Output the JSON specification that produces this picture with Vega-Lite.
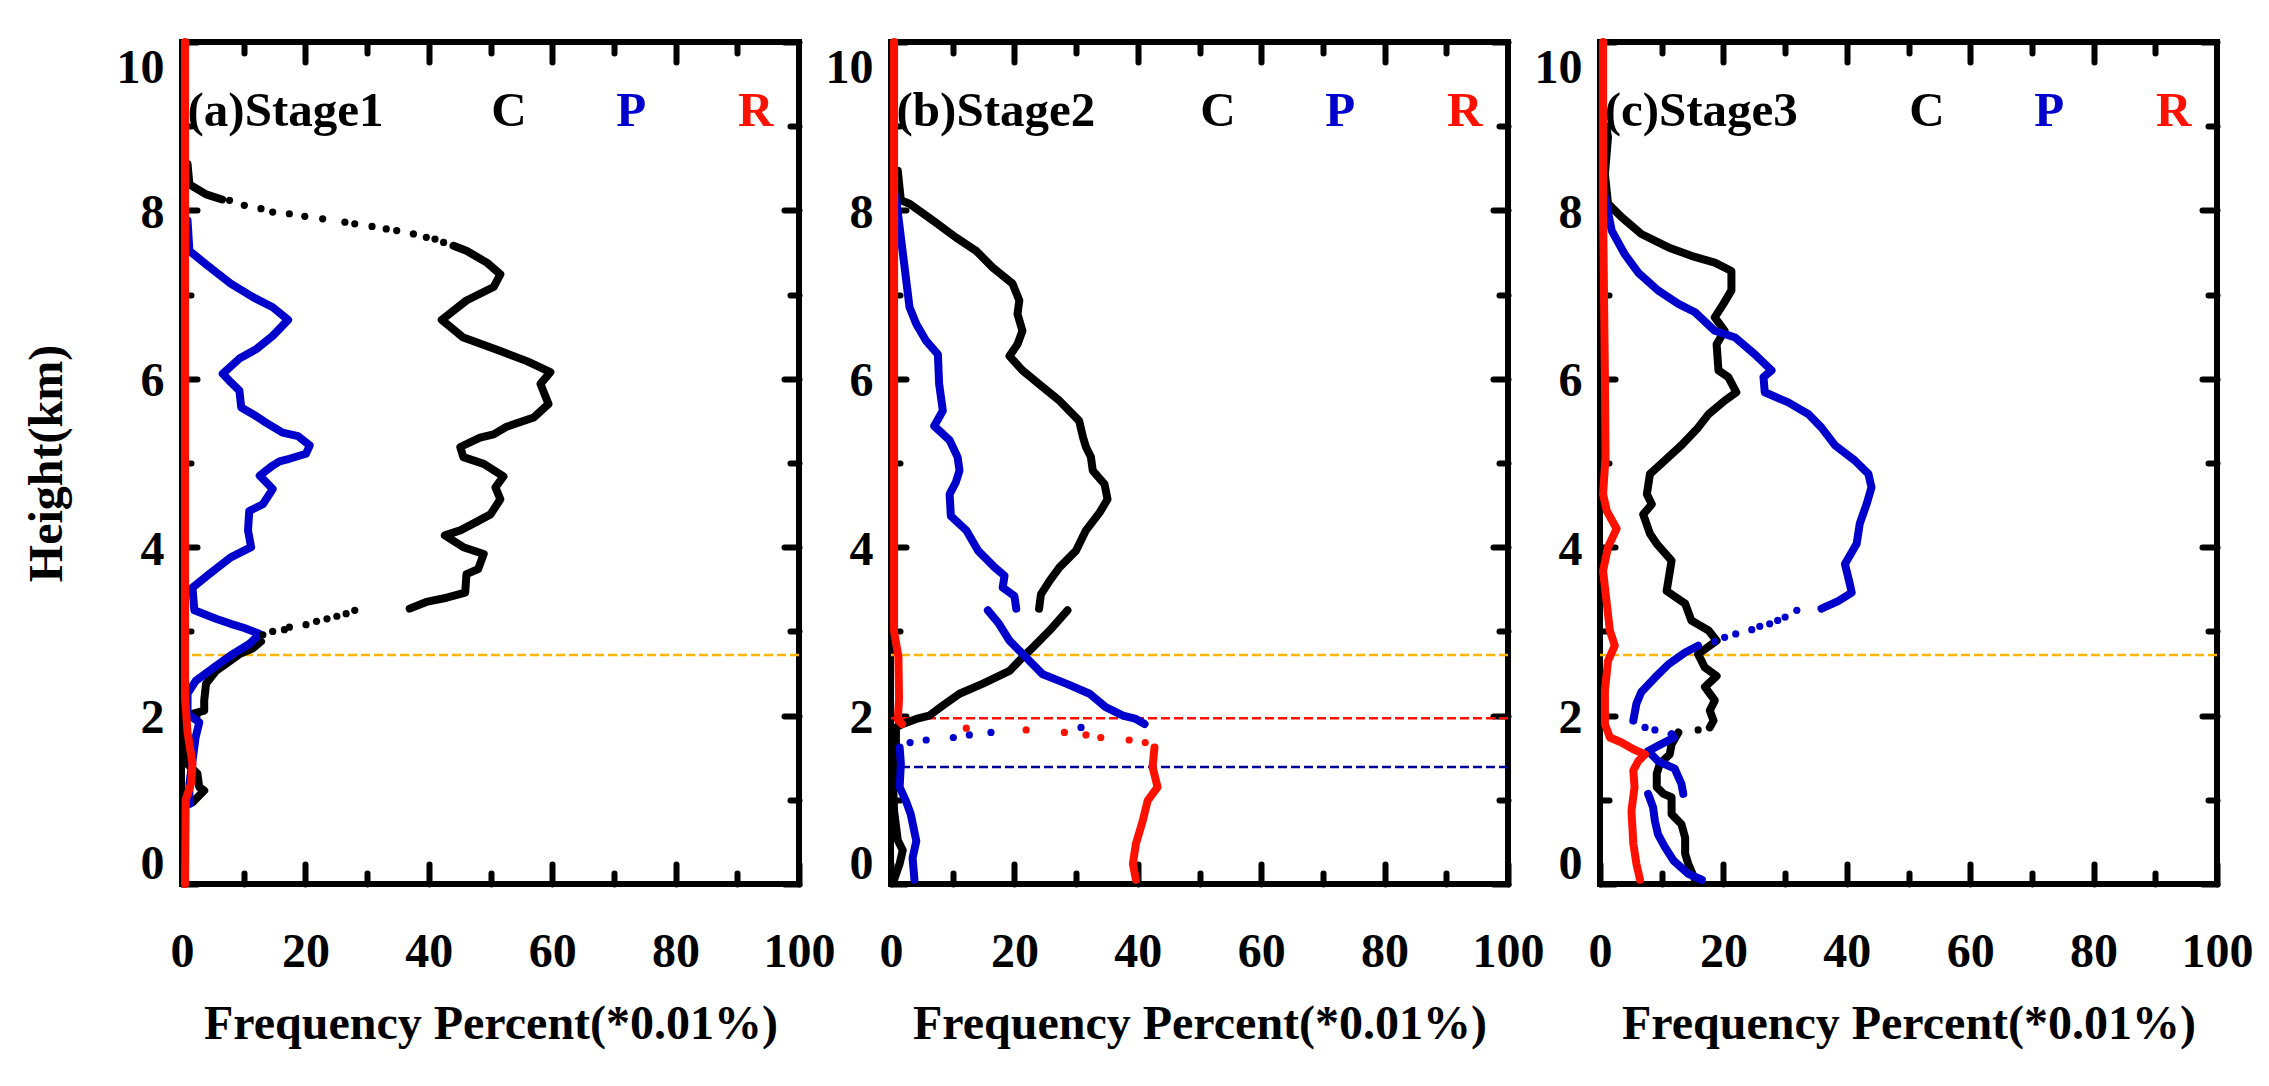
{
  "$schema": "https://vega.github.io/schema/vega-lite/v6.json",
  "padding": {"left": 20, "top": 35, "right": 10, "bottom": 5},
  "background": "white",
  "bounds": "flush",
  "spacing": 92,
  "datasets": {
    "rules": [
      {"p": "a", "k": "T", "h": 2.72},
      {"p": "b", "k": "T", "h": 2.72},
      {"p": "b", "k": "R", "h": 1.97},
      {"p": "b", "k": "P", "h": 1.39},
      {"p": "c", "k": "T", "h": 2.72}
    ],
    "stages": [
      {"p": "a", "t": "(a)Stage1", "f": 0.9, "h": 9.0},
      {"p": "b", "t": "(b)Stage2", "f": 0.9, "h": 9.0},
      {"p": "c", "t": "(c)Stage3", "f": 0.75, "h": 9.0}
    ],
    "keys": [
      {"p": "a", "s": "C", "f": 53, "h": 9.0},
      {"p": "a", "s": "P", "f": 72.8, "h": 9.0},
      {"p": "a", "s": "R", "f": 93, "h": 9.0},
      {"p": "b", "s": "C", "f": 53, "h": 9.0},
      {"p": "b", "s": "P", "f": 72.8, "h": 9.0},
      {"p": "b", "s": "R", "f": 93, "h": 9.0},
      {"p": "c", "s": "C", "f": 53, "h": 9.0},
      {"p": "c", "s": "P", "f": 72.8, "h": 9.0},
      {"p": "c", "s": "R", "f": 93, "h": 9.0}
    ],
    "lines": [
      {"p": "a", "s": "C", "g": 1, "f": 0.9, "h": 8.55},
      {"p": "a", "s": "C", "g": 1, "f": 1.2, "h": 8.31},
      {"p": "a", "s": "C", "g": 1, "f": 3.9, "h": 8.19},
      {"p": "a", "s": "C", "g": 1, "f": 6.5, "h": 8.13},
      {"p": "a", "s": "C", "g": 2, "f": 44.0, "h": 7.58},
      {"p": "a", "s": "C", "g": 2, "f": 46.1, "h": 7.52},
      {"p": "a", "s": "C", "g": 2, "f": 49.4, "h": 7.38},
      {"p": "a", "s": "C", "g": 2, "f": 51.6, "h": 7.24},
      {"p": "a", "s": "C", "g": 2, "f": 50.5, "h": 7.09},
      {"p": "a", "s": "C", "g": 2, "f": 46.1, "h": 6.93},
      {"p": "a", "s": "C", "g": 2, "f": 42.1, "h": 6.70},
      {"p": "a", "s": "C", "g": 2, "f": 45.6, "h": 6.49},
      {"p": "a", "s": "C", "g": 2, "f": 51.6, "h": 6.33},
      {"p": "a", "s": "C", "g": 2, "f": 55.9, "h": 6.21},
      {"p": "a", "s": "C", "g": 2, "f": 59.7, "h": 6.08},
      {"p": "a", "s": "C", "g": 2, "f": 58.1, "h": 5.94},
      {"p": "a", "s": "C", "g": 2, "f": 59.4, "h": 5.70},
      {"p": "a", "s": "C", "g": 2, "f": 57.0, "h": 5.54},
      {"p": "a", "s": "C", "g": 2, "f": 52.6, "h": 5.43},
      {"p": "a", "s": "C", "g": 2, "f": 50.5, "h": 5.34},
      {"p": "a", "s": "C", "g": 2, "f": 48.3, "h": 5.30},
      {"p": "a", "s": "C", "g": 2, "f": 45.1, "h": 5.19},
      {"p": "a", "s": "C", "g": 2, "f": 45.6, "h": 5.07},
      {"p": "a", "s": "C", "g": 2, "f": 48.9, "h": 4.99},
      {"p": "a", "s": "C", "g": 2, "f": 52.1, "h": 4.84},
      {"p": "a", "s": "C", "g": 2, "f": 50.8, "h": 4.71},
      {"p": "a", "s": "C", "g": 2, "f": 51.6, "h": 4.57},
      {"p": "a", "s": "C", "g": 2, "f": 50.0, "h": 4.39},
      {"p": "a", "s": "C", "g": 2, "f": 47.2, "h": 4.28},
      {"p": "a", "s": "C", "g": 2, "f": 45.1, "h": 4.20},
      {"p": "a", "s": "C", "g": 2, "f": 42.6, "h": 4.14},
      {"p": "a", "s": "C", "g": 2, "f": 45.6, "h": 4.00},
      {"p": "a", "s": "C", "g": 2, "f": 48.9, "h": 3.92},
      {"p": "a", "s": "C", "g": 2, "f": 48.0, "h": 3.74},
      {"p": "a", "s": "C", "g": 2, "f": 46.1, "h": 3.68},
      {"p": "a", "s": "C", "g": 2, "f": 45.9, "h": 3.46},
      {"p": "a", "s": "C", "g": 2, "f": 42.9, "h": 3.40},
      {"p": "a", "s": "C", "g": 2, "f": 39.6, "h": 3.35},
      {"p": "a", "s": "C", "g": 2, "f": 36.9, "h": 3.27},
      {"p": "a", "s": "C", "g": 3, "f": 12.8, "h": 2.88},
      {"p": "a", "s": "C", "g": 3, "f": 11.5, "h": 2.80},
      {"p": "a", "s": "C", "g": 3, "f": 9.3, "h": 2.73},
      {"p": "a", "s": "C", "g": 3, "f": 5.5, "h": 2.53},
      {"p": "a", "s": "C", "g": 3, "f": 3.9, "h": 2.38},
      {"p": "a", "s": "C", "g": 3, "f": 3.6, "h": 2.18},
      {"p": "a", "s": "C", "g": 3, "f": 3.6, "h": 2.06},
      {"p": "a", "s": "C", "g": 3, "f": 1.7, "h": 2.02},
      {"p": "a", "s": "C", "g": 3, "f": 0.6, "h": 1.94},
      {"p": "a", "s": "C", "g": 3, "f": 0.9, "h": 1.66},
      {"p": "a", "s": "C", "g": 3, "f": 0.4, "h": 1.46},
      {"p": "a", "s": "C", "g": 3, "f": 2.5, "h": 1.31},
      {"p": "a", "s": "C", "g": 3, "f": 2.8, "h": 1.15},
      {"p": "a", "s": "C", "g": 3, "f": 3.6, "h": 1.11},
      {"p": "a", "s": "C", "g": 3, "f": 1.7, "h": 0.97},
      {"p": "a", "s": "P", "g": 1, "f": 0.9, "h": 7.88},
      {"p": "a", "s": "P", "g": 1, "f": 1.2, "h": 7.52},
      {"p": "a", "s": "P", "g": 1, "f": 3.9, "h": 7.36},
      {"p": "a", "s": "P", "g": 1, "f": 7.9, "h": 7.13},
      {"p": "a", "s": "P", "g": 1, "f": 11.5, "h": 6.97},
      {"p": "a", "s": "P", "g": 1, "f": 14.7, "h": 6.85},
      {"p": "a", "s": "P", "g": 1, "f": 17.2, "h": 6.70},
      {"p": "a", "s": "P", "g": 1, "f": 14.7, "h": 6.51},
      {"p": "a", "s": "P", "g": 1, "f": 12.0, "h": 6.35},
      {"p": "a", "s": "P", "g": 1, "f": 9.3, "h": 6.24},
      {"p": "a", "s": "P", "g": 1, "f": 6.6, "h": 6.06},
      {"p": "a", "s": "P", "g": 1, "f": 7.9, "h": 5.96},
      {"p": "a", "s": "P", "g": 1, "f": 9.3, "h": 5.86},
      {"p": "a", "s": "P", "g": 1, "f": 9.6, "h": 5.66},
      {"p": "a", "s": "P", "g": 1, "f": 11.5, "h": 5.58},
      {"p": "a", "s": "P", "g": 1, "f": 13.6, "h": 5.48},
      {"p": "a", "s": "P", "g": 1, "f": 16.3, "h": 5.36},
      {"p": "a", "s": "P", "g": 1, "f": 18.8, "h": 5.32},
      {"p": "a", "s": "P", "g": 1, "f": 20.7, "h": 5.21},
      {"p": "a", "s": "P", "g": 1, "f": 20.1, "h": 5.11},
      {"p": "a", "s": "P", "g": 1, "f": 17.4, "h": 5.05},
      {"p": "a", "s": "P", "g": 1, "f": 15.8, "h": 5.02},
      {"p": "a", "s": "P", "g": 1, "f": 14.7, "h": 4.97},
      {"p": "a", "s": "P", "g": 1, "f": 12.6, "h": 4.85},
      {"p": "a", "s": "P", "g": 1, "f": 14.7, "h": 4.69},
      {"p": "a", "s": "P", "g": 1, "f": 13.1, "h": 4.51},
      {"p": "a", "s": "P", "g": 1, "f": 10.9, "h": 4.43},
      {"p": "a", "s": "P", "g": 1, "f": 10.7, "h": 4.20},
      {"p": "a", "s": "P", "g": 1, "f": 11.2, "h": 4.00},
      {"p": "a", "s": "P", "g": 1, "f": 7.9, "h": 3.88},
      {"p": "a", "s": "P", "g": 1, "f": 4.4, "h": 3.68},
      {"p": "a", "s": "P", "g": 1, "f": 1.7, "h": 3.52},
      {"p": "a", "s": "P", "g": 1, "f": 2.0, "h": 3.25},
      {"p": "a", "s": "P", "g": 1, "f": 5.5, "h": 3.15},
      {"p": "a", "s": "P", "g": 1, "f": 7.9, "h": 3.09},
      {"p": "a", "s": "P", "g": 1, "f": 10.1, "h": 3.04},
      {"p": "a", "s": "P", "g": 1, "f": 12.6, "h": 2.97},
      {"p": "a", "s": "P", "g": 1, "f": 10.9, "h": 2.85},
      {"p": "a", "s": "P", "g": 1, "f": 8.2, "h": 2.73},
      {"p": "a", "s": "P", "g": 1, "f": 5.5, "h": 2.59},
      {"p": "a", "s": "P", "g": 1, "f": 2.2, "h": 2.41},
      {"p": "a", "s": "P", "g": 1, "f": 0.9, "h": 2.26},
      {"p": "a", "s": "P", "g": 1, "f": 0.9, "h": 2.02},
      {"p": "a", "s": "P", "g": 1, "f": 2.8, "h": 1.92},
      {"p": "a", "s": "P", "g": 1, "f": 2.2, "h": 1.74},
      {"p": "a", "s": "P", "g": 1, "f": 1.7, "h": 1.46},
      {"p": "a", "s": "P", "g": 1, "f": 1.2, "h": 1.19},
      {"p": "a", "s": "P", "g": 1, "f": 1.2, "h": 0.95},
      {"p": "a", "s": "R", "g": 1, "f": 0.5, "h": 10},
      {"p": "a", "s": "R", "g": 1, "f": 0.5, "h": 2.2},
      {"p": "a", "s": "R", "g": 1, "f": 0.9, "h": 1.8},
      {"p": "a", "s": "R", "g": 1, "f": 1.7, "h": 1.43},
      {"p": "a", "s": "R", "g": 1, "f": 1.5, "h": 1.2},
      {"p": "a", "s": "R", "g": 1, "f": 0.6, "h": 1.0},
      {"p": "a", "s": "R", "g": 1, "f": 0.5, "h": 0},

      {"p": "b", "s": "C", "g": 1, "f": 1.1, "h": 8.47},
      {"p": "b", "s": "C", "g": 1, "f": 1.6, "h": 8.12},
      {"p": "b", "s": "C", "g": 1, "f": 3.0, "h": 8.08},
      {"p": "b", "s": "C", "g": 1, "f": 6.8, "h": 7.88},
      {"p": "b", "s": "C", "g": 1, "f": 10.5, "h": 7.68},
      {"p": "b", "s": "C", "g": 1, "f": 13.8, "h": 7.52},
      {"p": "b", "s": "C", "g": 1, "f": 16.5, "h": 7.32},
      {"p": "b", "s": "C", "g": 1, "f": 19.7, "h": 7.13},
      {"p": "b", "s": "C", "g": 1, "f": 20.8, "h": 6.93},
      {"p": "b", "s": "C", "g": 1, "f": 20.5, "h": 6.77},
      {"p": "b", "s": "C", "g": 1, "f": 21.3, "h": 6.57},
      {"p": "b", "s": "C", "g": 1, "f": 20.5, "h": 6.41},
      {"p": "b", "s": "C", "g": 1, "f": 19.2, "h": 6.27},
      {"p": "b", "s": "C", "g": 1, "f": 21.3, "h": 6.10},
      {"p": "b", "s": "C", "g": 1, "f": 24.6, "h": 5.90},
      {"p": "b", "s": "C", "g": 1, "f": 27.3, "h": 5.74},
      {"p": "b", "s": "C", "g": 1, "f": 30.5, "h": 5.50},
      {"p": "b", "s": "C", "g": 1, "f": 31.1, "h": 5.31},
      {"p": "b", "s": "C", "g": 1, "f": 31.6, "h": 5.19},
      {"p": "b", "s": "C", "g": 1, "f": 32.4, "h": 5.07},
      {"p": "b", "s": "C", "g": 1, "f": 32.7, "h": 4.91},
      {"p": "b", "s": "C", "g": 1, "f": 34.6, "h": 4.75},
      {"p": "b", "s": "C", "g": 1, "f": 35.1, "h": 4.57},
      {"p": "b", "s": "C", "g": 1, "f": 33.8, "h": 4.41},
      {"p": "b", "s": "C", "g": 1, "f": 31.6, "h": 4.20},
      {"p": "b", "s": "C", "g": 1, "f": 30.0, "h": 3.96},
      {"p": "b", "s": "C", "g": 1, "f": 27.3, "h": 3.76},
      {"p": "b", "s": "C", "g": 1, "f": 25.7, "h": 3.60},
      {"p": "b", "s": "C", "g": 1, "f": 24.3, "h": 3.44},
      {"p": "b", "s": "C", "g": 1, "f": 24.0, "h": 3.27},
      {"p": "b", "s": "C", "g": 2, "f": 28.6, "h": 3.25},
      {"p": "b", "s": "C", "g": 2, "f": 25.7, "h": 3.01},
      {"p": "b", "s": "C", "g": 2, "f": 23.0, "h": 2.81},
      {"p": "b", "s": "C", "g": 2, "f": 21.3, "h": 2.69},
      {"p": "b", "s": "C", "g": 2, "f": 19.2, "h": 2.53},
      {"p": "b", "s": "C", "g": 2, "f": 14.9, "h": 2.38},
      {"p": "b", "s": "C", "g": 2, "f": 11.1, "h": 2.26},
      {"p": "b", "s": "C", "g": 2, "f": 8.4, "h": 2.12},
      {"p": "b", "s": "C", "g": 2, "f": 6.2, "h": 2.00},
      {"p": "b", "s": "C", "g": 2, "f": 4.1, "h": 1.96},
      {"p": "b", "s": "C", "g": 2, "f": 1.9, "h": 1.90},
      {"p": "b", "s": "C", "g": 2, "f": 0.8, "h": 1.86},
      {"p": "b", "s": "C", "g": 2, "f": 0.8, "h": 1.66},
      {"p": "b", "s": "C", "g": 2, "f": 0.3, "h": 1.25},
      {"p": "b", "s": "C", "g": 2, "f": 0.5, "h": 0.87},
      {"p": "b", "s": "C", "g": 2, "f": 1.1, "h": 0.52},
      {"p": "b", "s": "C", "g": 2, "f": 1.9, "h": 0.40},
      {"p": "b", "s": "C", "g": 2, "f": 1.4, "h": 0.24},
      {"p": "b", "s": "C", "g": 2, "f": 0.5, "h": 0.05},
      {"p": "b", "s": "P", "g": 1, "f": 0.8, "h": 8.16},
      {"p": "b", "s": "P", "g": 1, "f": 1.6, "h": 7.68},
      {"p": "b", "s": "P", "g": 1, "f": 2.4, "h": 7.21},
      {"p": "b", "s": "P", "g": 1, "f": 3.0, "h": 6.85},
      {"p": "b", "s": "P", "g": 1, "f": 4.1, "h": 6.65},
      {"p": "b", "s": "P", "g": 1, "f": 5.7, "h": 6.45},
      {"p": "b", "s": "P", "g": 1, "f": 7.6, "h": 6.29},
      {"p": "b", "s": "P", "g": 1, "f": 7.8, "h": 5.94},
      {"p": "b", "s": "P", "g": 1, "f": 8.4, "h": 5.62},
      {"p": "b", "s": "P", "g": 1, "f": 7.0, "h": 5.44},
      {"p": "b", "s": "P", "g": 1, "f": 9.5, "h": 5.27},
      {"p": "b", "s": "P", "g": 1, "f": 10.8, "h": 5.07},
      {"p": "b", "s": "P", "g": 1, "f": 11.1, "h": 4.91},
      {"p": "b", "s": "P", "g": 1, "f": 10.5, "h": 4.77},
      {"p": "b", "s": "P", "g": 1, "f": 9.5, "h": 4.63},
      {"p": "b", "s": "P", "g": 1, "f": 9.7, "h": 4.37},
      {"p": "b", "s": "P", "g": 1, "f": 12.2, "h": 4.20},
      {"p": "b", "s": "P", "g": 1, "f": 14.1, "h": 3.96},
      {"p": "b", "s": "P", "g": 1, "f": 16.8, "h": 3.76},
      {"p": "b", "s": "P", "g": 1, "f": 18.4, "h": 3.66},
      {"p": "b", "s": "P", "g": 1, "f": 18.1, "h": 3.52},
      {"p": "b", "s": "P", "g": 1, "f": 20.0, "h": 3.42},
      {"p": "b", "s": "P", "g": 1, "f": 20.3, "h": 3.27},
      {"p": "b", "s": "P", "g": 2, "f": 15.7, "h": 3.25},
      {"p": "b", "s": "P", "g": 2, "f": 17.5, "h": 3.09},
      {"p": "b", "s": "P", "g": 2, "f": 19.2, "h": 2.89},
      {"p": "b", "s": "P", "g": 2, "f": 21.9, "h": 2.69},
      {"p": "b", "s": "P", "g": 2, "f": 24.6, "h": 2.49},
      {"p": "b", "s": "P", "g": 2, "f": 28.4, "h": 2.38},
      {"p": "b", "s": "P", "g": 2, "f": 32.2, "h": 2.26},
      {"p": "b", "s": "P", "g": 2, "f": 34.8, "h": 2.10},
      {"p": "b", "s": "P", "g": 2, "f": 37.6, "h": 2.00},
      {"p": "b", "s": "P", "g": 2, "f": 39.7, "h": 1.96},
      {"p": "b", "s": "P", "g": 2, "f": 41.1, "h": 1.90},
      {"p": "b", "s": "P", "g": 3, "f": 1.4, "h": 1.62},
      {"p": "b", "s": "P", "g": 3, "f": 1.6, "h": 1.43},
      {"p": "b", "s": "P", "g": 3, "f": 1.4, "h": 1.15},
      {"p": "b", "s": "P", "g": 3, "f": 2.4, "h": 0.99},
      {"p": "b", "s": "P", "g": 3, "f": 3.2, "h": 0.83},
      {"p": "b", "s": "P", "g": 3, "f": 4.1, "h": 0.51},
      {"p": "b", "s": "P", "g": 3, "f": 3.5, "h": 0.31},
      {"p": "b", "s": "P", "g": 3, "f": 3.8, "h": 0.05},
      {"p": "b", "s": "R", "g": 1, "f": 0.5, "h": 10},
      {"p": "b", "s": "R", "g": 1, "f": 0.5, "h": 3.0},
      {"p": "b", "s": "R", "g": 1, "f": 1.2, "h": 2.7},
      {"p": "b", "s": "R", "g": 1, "f": 1.3, "h": 2.2},
      {"p": "b", "s": "R", "g": 1, "f": 1.1, "h": 1.95},
      {"p": "b", "s": "R", "g": 1, "f": 1.8, "h": 1.9},
      {"p": "b", "s": "R", "g": 2, "f": 42.7, "h": 1.62},
      {"p": "b", "s": "R", "g": 2, "f": 42.4, "h": 1.39},
      {"p": "b", "s": "R", "g": 2, "f": 43.2, "h": 1.15},
      {"p": "b", "s": "R", "g": 2, "f": 41.6, "h": 0.99},
      {"p": "b", "s": "R", "g": 2, "f": 40.8, "h": 0.75},
      {"p": "b", "s": "R", "g": 2, "f": 39.7, "h": 0.48},
      {"p": "b", "s": "R", "g": 2, "f": 39.2, "h": 0.24},
      {"p": "b", "s": "R", "g": 2, "f": 39.7, "h": 0.05},

      {"p": "c", "s": "C", "g": 1, "f": 1.0, "h": 9.0},
      {"p": "c", "s": "C", "g": 1, "f": 1.3, "h": 8.87},
      {"p": "c", "s": "C", "g": 1, "f": 0.8, "h": 8.43},
      {"p": "c", "s": "C", "g": 1, "f": 1.3, "h": 8.08},
      {"p": "c", "s": "C", "g": 1, "f": 3.5, "h": 7.92},
      {"p": "c", "s": "C", "g": 1, "f": 6.7, "h": 7.72},
      {"p": "c", "s": "C", "g": 1, "f": 11.1, "h": 7.56},
      {"p": "c", "s": "C", "g": 1, "f": 14.8, "h": 7.46},
      {"p": "c", "s": "C", "g": 1, "f": 18.6, "h": 7.38},
      {"p": "c", "s": "C", "g": 1, "f": 21.3, "h": 7.28},
      {"p": "c", "s": "C", "g": 1, "f": 21.3, "h": 7.05},
      {"p": "c", "s": "C", "g": 1, "f": 20.0, "h": 6.89},
      {"p": "c", "s": "C", "g": 1, "f": 18.6, "h": 6.73},
      {"p": "c", "s": "C", "g": 1, "f": 20.2, "h": 6.57},
      {"p": "c", "s": "C", "g": 1, "f": 18.9, "h": 6.41},
      {"p": "c", "s": "C", "g": 1, "f": 19.2, "h": 6.10},
      {"p": "c", "s": "C", "g": 1, "f": 20.8, "h": 6.02},
      {"p": "c", "s": "C", "g": 1, "f": 22.1, "h": 5.84},
      {"p": "c", "s": "C", "g": 1, "f": 20.2, "h": 5.74},
      {"p": "c", "s": "C", "g": 1, "f": 17.6, "h": 5.58},
      {"p": "c", "s": "C", "g": 1, "f": 15.9, "h": 5.42},
      {"p": "c", "s": "C", "g": 1, "f": 13.2, "h": 5.21},
      {"p": "c", "s": "C", "g": 1, "f": 10.5, "h": 5.03},
      {"p": "c", "s": "C", "g": 1, "f": 8.1, "h": 4.87},
      {"p": "c", "s": "C", "g": 1, "f": 7.6, "h": 4.63},
      {"p": "c", "s": "C", "g": 1, "f": 8.4, "h": 4.51},
      {"p": "c", "s": "C", "g": 1, "f": 7.0, "h": 4.39},
      {"p": "c", "s": "C", "g": 1, "f": 8.1, "h": 4.16},
      {"p": "c", "s": "C", "g": 1, "f": 9.2, "h": 4.04},
      {"p": "c", "s": "C", "g": 1, "f": 11.6, "h": 3.84},
      {"p": "c", "s": "C", "g": 1, "f": 10.8, "h": 3.48},
      {"p": "c", "s": "C", "g": 1, "f": 13.8, "h": 3.33},
      {"p": "c", "s": "C", "g": 1, "f": 14.8, "h": 3.13},
      {"p": "c", "s": "C", "g": 1, "f": 17.6, "h": 3.01},
      {"p": "c", "s": "C", "g": 1, "f": 18.9, "h": 2.89},
      {"p": "c", "s": "C", "g": 1, "f": 15.9, "h": 2.73},
      {"p": "c", "s": "C", "g": 1, "f": 17.0, "h": 2.57},
      {"p": "c", "s": "C", "g": 1, "f": 18.9, "h": 2.47},
      {"p": "c", "s": "C", "g": 1, "f": 17.0, "h": 2.34},
      {"p": "c", "s": "C", "g": 1, "f": 18.6, "h": 2.18},
      {"p": "c", "s": "C", "g": 1, "f": 17.8, "h": 2.06},
      {"p": "c", "s": "C", "g": 1, "f": 18.4, "h": 1.94},
      {"p": "c", "s": "C", "g": 1, "f": 17.8, "h": 1.86},
      {"p": "c", "s": "C", "g": 2, "f": 12.7, "h": 1.80},
      {"p": "c", "s": "C", "g": 2, "f": 11.6, "h": 1.66},
      {"p": "c", "s": "C", "g": 2, "f": 11.3, "h": 1.54},
      {"p": "c", "s": "C", "g": 2, "f": 9.7, "h": 1.43},
      {"p": "c", "s": "C", "g": 2, "f": 9.2, "h": 1.31},
      {"p": "c", "s": "C", "g": 2, "f": 9.2, "h": 1.15},
      {"p": "c", "s": "C", "g": 2, "f": 10.3, "h": 1.07},
      {"p": "c", "s": "C", "g": 2, "f": 11.6, "h": 1.03},
      {"p": "c", "s": "C", "g": 2, "f": 11.6, "h": 0.83},
      {"p": "c", "s": "C", "g": 2, "f": 13.2, "h": 0.71},
      {"p": "c", "s": "C", "g": 2, "f": 13.8, "h": 0.55},
      {"p": "c", "s": "C", "g": 2, "f": 13.8, "h": 0.36},
      {"p": "c", "s": "C", "g": 2, "f": 14.3, "h": 0.24},
      {"p": "c", "s": "C", "g": 2, "f": 15.4, "h": 0.05},
      {"p": "c", "s": "P", "g": 1, "f": 0.8, "h": 8.16},
      {"p": "c", "s": "P", "g": 1, "f": 1.9, "h": 7.76},
      {"p": "c", "s": "P", "g": 1, "f": 4.0, "h": 7.48},
      {"p": "c", "s": "P", "g": 1, "f": 6.2, "h": 7.26},
      {"p": "c", "s": "P", "g": 1, "f": 9.4, "h": 7.05},
      {"p": "c", "s": "P", "g": 1, "f": 12.7, "h": 6.89},
      {"p": "c", "s": "P", "g": 1, "f": 15.4, "h": 6.79},
      {"p": "c", "s": "P", "g": 1, "f": 18.6, "h": 6.57},
      {"p": "c", "s": "P", "g": 1, "f": 21.9, "h": 6.49},
      {"p": "c", "s": "P", "g": 1, "f": 25.1, "h": 6.29},
      {"p": "c", "s": "P", "g": 1, "f": 27.8, "h": 6.10},
      {"p": "c", "s": "P", "g": 1, "f": 26.5, "h": 6.02},
      {"p": "c", "s": "P", "g": 1, "f": 26.7, "h": 5.84},
      {"p": "c", "s": "P", "g": 1, "f": 30.5, "h": 5.72},
      {"p": "c", "s": "P", "g": 1, "f": 33.8, "h": 5.58},
      {"p": "c", "s": "P", "g": 1, "f": 35.9, "h": 5.42},
      {"p": "c", "s": "P", "g": 1, "f": 38.1, "h": 5.21},
      {"p": "c", "s": "P", "g": 1, "f": 41.3, "h": 5.03},
      {"p": "c", "s": "P", "g": 1, "f": 43.5, "h": 4.87},
      {"p": "c", "s": "P", "g": 1, "f": 44.0, "h": 4.71},
      {"p": "c", "s": "P", "g": 1, "f": 43.2, "h": 4.51},
      {"p": "c", "s": "P", "g": 1, "f": 42.1, "h": 4.28},
      {"p": "c", "s": "P", "g": 1, "f": 41.6, "h": 4.04},
      {"p": "c", "s": "P", "g": 1, "f": 39.7, "h": 3.80},
      {"p": "c", "s": "P", "g": 1, "f": 40.5, "h": 3.56},
      {"p": "c", "s": "P", "g": 1, "f": 40.8, "h": 3.46},
      {"p": "c", "s": "P", "g": 1, "f": 38.6, "h": 3.36},
      {"p": "c", "s": "P", "g": 1, "f": 35.9, "h": 3.27},
      {"p": "c", "s": "P", "g": 2, "f": 15.9, "h": 2.83},
      {"p": "c", "s": "P", "g": 2, "f": 13.8, "h": 2.75},
      {"p": "c", "s": "P", "g": 2, "f": 11.1, "h": 2.61},
      {"p": "c", "s": "P", "g": 2, "f": 8.9, "h": 2.45},
      {"p": "c", "s": "P", "g": 2, "f": 6.7, "h": 2.28},
      {"p": "c", "s": "P", "g": 2, "f": 5.9, "h": 2.14},
      {"p": "c", "s": "P", "g": 2, "f": 5.4, "h": 1.94},
      {"p": "c", "s": "P", "g": 3, "f": 11.6, "h": 1.78},
      {"p": "c", "s": "P", "g": 3, "f": 12.0, "h": 1.74},
      {"p": "c", "s": "P", "g": 3, "f": 9.4, "h": 1.64},
      {"p": "c", "s": "P", "g": 3, "f": 7.8, "h": 1.58},
      {"p": "c", "s": "P", "g": 3, "f": 9.4, "h": 1.46},
      {"p": "c", "s": "P", "g": 3, "f": 12.1, "h": 1.37},
      {"p": "c", "s": "P", "g": 3, "f": 13.2, "h": 1.19},
      {"p": "c", "s": "P", "g": 3, "f": 13.5, "h": 1.07},
      {"p": "c", "s": "P", "g": 4, "f": 7.8, "h": 1.07},
      {"p": "c", "s": "P", "g": 4, "f": 8.6, "h": 0.91},
      {"p": "c", "s": "P", "g": 4, "f": 8.9, "h": 0.75},
      {"p": "c", "s": "P", "g": 4, "f": 9.4, "h": 0.59},
      {"p": "c", "s": "P", "g": 4, "f": 10.5, "h": 0.44},
      {"p": "c", "s": "P", "g": 4, "f": 11.9, "h": 0.28},
      {"p": "c", "s": "P", "g": 4, "f": 14.3, "h": 0.12},
      {"p": "c", "s": "P", "g": 4, "f": 16.5, "h": 0.05},
      {"p": "c", "s": "R", "g": 1, "f": 0.5, "h": 10},
      {"p": "c", "s": "R", "g": 1, "f": 0.5, "h": 8.0},
      {"p": "c", "s": "R", "g": 1, "f": 0.8, "h": 6.0},
      {"p": "c", "s": "R", "g": 1, "f": 0.9, "h": 5.07},
      {"p": "c", "s": "R", "g": 1, "f": 0.5, "h": 4.63},
      {"p": "c", "s": "R", "g": 1, "f": 1.1, "h": 4.43},
      {"p": "c", "s": "R", "g": 1, "f": 2.7, "h": 4.22},
      {"p": "c", "s": "R", "g": 1, "f": 1.3, "h": 4.00},
      {"p": "c", "s": "R", "g": 1, "f": 0.5, "h": 3.72},
      {"p": "c", "s": "R", "g": 1, "f": 1.1, "h": 3.33},
      {"p": "c", "s": "R", "g": 1, "f": 1.6, "h": 3.01},
      {"p": "c", "s": "R", "g": 1, "f": 2.4, "h": 2.83},
      {"p": "c", "s": "R", "g": 1, "f": 1.3, "h": 2.65},
      {"p": "c", "s": "R", "g": 1, "f": 0.8, "h": 2.30},
      {"p": "c", "s": "R", "g": 1, "f": 0.8, "h": 1.90},
      {"p": "c", "s": "R", "g": 1, "f": 1.6, "h": 1.74},
      {"p": "c", "s": "R", "g": 1, "f": 3.5, "h": 1.68},
      {"p": "c", "s": "R", "g": 1, "f": 5.4, "h": 1.60},
      {"p": "c", "s": "R", "g": 1, "f": 7.3, "h": 1.54},
      {"p": "c", "s": "R", "g": 1, "f": 6.2, "h": 1.46},
      {"p": "c", "s": "R", "g": 1, "f": 5.4, "h": 1.35},
      {"p": "c", "s": "R", "g": 1, "f": 5.6, "h": 1.15},
      {"p": "c", "s": "R", "g": 1, "f": 5.1, "h": 0.87},
      {"p": "c", "s": "R", "g": 1, "f": 5.4, "h": 0.48},
      {"p": "c", "s": "R", "g": 1, "f": 5.9, "h": 0.24},
      {"p": "c", "s": "R", "g": 1, "f": 6.5, "h": 0.05}
    ],
    "dots": [
      {"p": "a", "s": "C", "f": 7.7, "h": 8.12},
      {"p": "a", "s": "C", "f": 10.1, "h": 8.06},
      {"p": "a", "s": "C", "f": 12.8, "h": 8.02},
      {"p": "a", "s": "C", "f": 14.7, "h": 7.98},
      {"p": "a", "s": "C", "f": 17.4, "h": 7.96},
      {"p": "a", "s": "C", "f": 19.9, "h": 7.93},
      {"p": "a", "s": "C", "f": 22.8, "h": 7.90},
      {"p": "a", "s": "C", "f": 26.4, "h": 7.86},
      {"p": "a", "s": "C", "f": 28.0, "h": 7.84},
      {"p": "a", "s": "C", "f": 30.8, "h": 7.81},
      {"p": "a", "s": "C", "f": 33.1, "h": 7.78},
      {"p": "a", "s": "C", "f": 34.8, "h": 7.76},
      {"p": "a", "s": "C", "f": 37.5, "h": 7.72},
      {"p": "a", "s": "C", "f": 39.6, "h": 7.68},
      {"p": "a", "s": "C", "f": 41.0, "h": 7.66},
      {"p": "a", "s": "C", "f": 42.4, "h": 7.62},
      {"p": "a", "s": "C", "f": 28.0, "h": 3.25},
      {"p": "a", "s": "C", "f": 26.6, "h": 3.21},
      {"p": "a", "s": "C", "f": 25.1, "h": 3.18},
      {"p": "a", "s": "C", "f": 23.5, "h": 3.15},
      {"p": "a", "s": "C", "f": 21.8, "h": 3.12},
      {"p": "a", "s": "C", "f": 20.1, "h": 3.08},
      {"p": "a", "s": "C", "f": 17.4, "h": 3.05},
      {"p": "a", "s": "C", "f": 16.6, "h": 3.02},
      {"p": "a", "s": "C", "f": 14.7, "h": 3.00},
      {"p": "a", "s": "C", "f": 13.1, "h": 2.96},
      {"p": "b", "s": "P", "f": 30.8, "h": 1.86},
      {"p": "b", "s": "P", "f": 16.2, "h": 1.80},
      {"p": "b", "s": "P", "f": 12.7, "h": 1.77},
      {"p": "b", "s": "P", "f": 10.1, "h": 1.74},
      {"p": "b", "s": "P", "f": 5.7, "h": 1.71},
      {"p": "b", "s": "P", "f": 3.1, "h": 1.68},
      {"p": "b", "s": "R", "f": 12.2, "h": 1.85},
      {"p": "b", "s": "R", "f": 21.9, "h": 1.83},
      {"p": "b", "s": "R", "f": 28.1, "h": 1.80},
      {"p": "b", "s": "R", "f": 31.6, "h": 1.77},
      {"p": "b", "s": "R", "f": 34.0, "h": 1.74},
      {"p": "b", "s": "R", "f": 38.6, "h": 1.71},
      {"p": "b", "s": "R", "f": 41.2, "h": 1.68},
      {"p": "c", "s": "C", "f": 15.9, "h": 1.83},
      {"p": "c", "s": "P", "f": 31.9, "h": 3.25},
      {"p": "c", "s": "P", "f": 30.0, "h": 3.17},
      {"p": "c", "s": "P", "f": 28.8, "h": 3.13},
      {"p": "c", "s": "P", "f": 27.5, "h": 3.09},
      {"p": "c", "s": "P", "f": 25.9, "h": 3.06},
      {"p": "c", "s": "P", "f": 24.6, "h": 3.02},
      {"p": "c", "s": "P", "f": 22.0, "h": 2.97},
      {"p": "c", "s": "P", "f": 20.2, "h": 2.93},
      {"p": "c", "s": "P", "f": 18.6, "h": 2.88},
      {"p": "c", "s": "P", "f": 7.3, "h": 1.86},
      {"p": "c", "s": "P", "f": 8.9, "h": 1.83}
    ]
  },
  "hconcat": [
    {
      "width": 617,
      "height": 842,
      "layer": [
        {
          "data": {"name": "rules"},
          "transform": [{"filter": "datum.p == 'a'"}],
          "mark": {"type": "rule", "strokeDash": [9, 4], "strokeWidth": 2.5},
          "encoding": {
            "y": {"field": "h", "type": "quantitative", "scale": {"domain": [0, 10], "nice": false, "zero": false},
              "axis": {"orient": "left", "values": [0, 2, 4, 6, 8, 10], "tickSize": -15, "labelPadding": 33, "labelFlush": true, "labelFlushOffset": 1, "labelOffset": 3, "title": "Height(km)", "titlePadding": 45}},
            "color": {"field": "k", "type": "nominal", "scale": {"domain": ["T", "R", "P"], "range": ["#ffb400", "#ff1100", "#00009c"]}, "legend": null}
          }
        },
        {
          "data": {"name": "lines"},
          "transform": [{"filter": "datum.p == 'a'"}],
          "mark": {"type": "line", "strokeWidth": 8, "strokeCap": "round", "strokeJoin": "round"},
          "encoding": {
            "x": {"field": "f", "type": "quantitative", "scale": {"domain": [0, 100], "nice": false, "zero": false},
              "axis": {"orient": "bottom", "values": [0, 20, 40, 60, 80, 100], "tickSize": -20, "labelPadding": 64, "labelFlush": false, "title": "Frequency Percent(*0.01%)", "titlePadding": 24}},
            "y": {"field": "h", "type": "quantitative", "scale": {"domain": [0, 10], "nice": false, "zero": false},
              "axis": {"orient": "left", "values": [1, 3, 5, 7, 9], "tickSize": -9, "labels": false, "title": null}},
            "color": {"field": "s", "type": "nominal", "scale": {"domain": ["C", "P", "R"], "range": ["#000000", "#0000cd", "#ff1100"]}, "legend": null},
            "detail": {"field": "g", "type": "nominal"},
            "order": {"field": "h", "type": "quantitative"}
          }
        },
        {
          "data": {"name": "dots"},
          "transform": [{"filter": "datum.p == 'a'"}],
          "mark": {"type": "point", "shape": "circle", "filled": true, "size": 52, "opacity": 1},
          "encoding": {
            "x": {"field": "f", "type": "quantitative", "scale": {"domain": [0, 100], "nice": false, "zero": false},
              "axis": {"orient": "bottom", "values": [10, 30, 50, 70, 90], "tickSize": -11, "labels": false, "title": null}},
            "y": {"field": "h", "type": "quantitative", "scale": {"domain": [0, 10], "nice": false, "zero": false},
              "axis": {"orient": "right", "values": [0, 2, 4, 6, 8, 10], "tickSize": -15, "labels": false, "title": null}},
            "color": {"field": "s", "type": "nominal", "scale": {"domain": ["C", "P", "R"], "range": ["#000000", "#0000cd", "#ff1100"]}, "legend": null}
          }
        },
        {
          "data": {"name": "stages"},
          "transform": [{"filter": "datum.p == 'a'"}],
          "mark": {"type": "text", "align": "left", "baseline": "alphabetic", "font": "Liberation Serif", "fontSize": 49, "fontWeight": "bold", "color": "#000000"},
          "encoding": {
            "x": {"field": "f", "type": "quantitative", "scale": {"domain": [0, 100], "nice": false, "zero": false},
              "axis": {"orient": "top", "values": [20, 40, 60, 80], "tickSize": -20, "labels": false, "title": null}},
            "y": {"field": "h", "type": "quantitative", "scale": {"domain": [0, 10], "nice": false, "zero": false},
              "axis": {"orient": "right", "values": [1, 3, 5, 7, 9], "tickSize": -9, "labels": false, "title": null}},
            "text": {"field": "t"}
          }
        },
        {
          "data": {"name": "keys"},
          "transform": [{"filter": "datum.p == 'a'"}],
          "mark": {"type": "text", "align": "center", "baseline": "alphabetic", "font": "Liberation Serif", "fontSize": 49, "fontWeight": "bold"},
          "encoding": {
            "x": {"field": "f", "type": "quantitative", "scale": {"domain": [0, 100], "nice": false, "zero": false},
              "axis": {"orient": "top", "values": [10, 30, 50, 70, 90], "tickSize": -11, "labels": false, "title": null}},
            "y": {"field": "h", "type": "quantitative", "scale": {"domain": [0, 10], "nice": false, "zero": false}, "axis": null},
            "text": {"field": "s"},
            "color": {"field": "s", "type": "nominal", "scale": {"domain": ["C", "P", "R"], "range": ["#000000", "#0000cd", "#ff1100"]}, "legend": null}
          }
        }
      ],
      "resolve": {"axis": {"x": "independent", "y": "independent"}, "scale": {"color": "independent"}}
    },
    {
      "width": 617,
      "height": 842,
      "layer": [
        {
          "data": {"name": "rules"},
          "transform": [{"filter": "datum.p == 'b'"}],
          "mark": {"type": "rule", "strokeDash": [9, 4], "strokeWidth": 2.5},
          "encoding": {
            "y": {"field": "h", "type": "quantitative", "scale": {"domain": [0, 10], "nice": false, "zero": false},
              "axis": {"orient": "left", "values": [0, 2, 4, 6, 8, 10], "tickSize": -15, "labelPadding": 33, "labelFlush": true, "labelFlushOffset": 1, "labelOffset": 3, "title": null}},
            "color": {"field": "k", "type": "nominal", "scale": {"domain": ["T", "R", "P"], "range": ["#ffb400", "#ff1100", "#00009c"]}, "legend": null}
          }
        },
        {
          "data": {"name": "lines"},
          "transform": [{"filter": "datum.p == 'b'"}],
          "mark": {"type": "line", "strokeWidth": 8, "strokeCap": "round", "strokeJoin": "round"},
          "encoding": {
            "x": {"field": "f", "type": "quantitative", "scale": {"domain": [0, 100], "nice": false, "zero": false},
              "axis": {"orient": "bottom", "values": [0, 20, 40, 60, 80, 100], "tickSize": -20, "labelPadding": 64, "labelFlush": false, "title": "Frequency Percent(*0.01%)", "titlePadding": 24}},
            "y": {"field": "h", "type": "quantitative", "scale": {"domain": [0, 10], "nice": false, "zero": false},
              "axis": {"orient": "left", "values": [1, 3, 5, 7, 9], "tickSize": -9, "labels": false, "title": null}},
            "color": {"field": "s", "type": "nominal", "scale": {"domain": ["C", "P", "R"], "range": ["#000000", "#0000cd", "#ff1100"]}, "legend": null},
            "detail": {"field": "g", "type": "nominal"},
            "order": {"field": "h", "type": "quantitative"}
          }
        },
        {
          "data": {"name": "dots"},
          "transform": [{"filter": "datum.p == 'b'"}],
          "mark": {"type": "point", "shape": "circle", "filled": true, "size": 52, "opacity": 1},
          "encoding": {
            "x": {"field": "f", "type": "quantitative", "scale": {"domain": [0, 100], "nice": false, "zero": false},
              "axis": {"orient": "bottom", "values": [10, 30, 50, 70, 90], "tickSize": -11, "labels": false, "title": null}},
            "y": {"field": "h", "type": "quantitative", "scale": {"domain": [0, 10], "nice": false, "zero": false},
              "axis": {"orient": "right", "values": [0, 2, 4, 6, 8, 10], "tickSize": -15, "labels": false, "title": null}},
            "color": {"field": "s", "type": "nominal", "scale": {"domain": ["C", "P", "R"], "range": ["#000000", "#0000cd", "#ff1100"]}, "legend": null}
          }
        },
        {
          "data": {"name": "stages"},
          "transform": [{"filter": "datum.p == 'b'"}],
          "mark": {"type": "text", "align": "left", "baseline": "alphabetic", "font": "Liberation Serif", "fontSize": 49, "fontWeight": "bold", "color": "#000000"},
          "encoding": {
            "x": {"field": "f", "type": "quantitative", "scale": {"domain": [0, 100], "nice": false, "zero": false},
              "axis": {"orient": "top", "values": [20, 40, 60, 80], "tickSize": -20, "labels": false, "title": null}},
            "y": {"field": "h", "type": "quantitative", "scale": {"domain": [0, 10], "nice": false, "zero": false},
              "axis": {"orient": "right", "values": [1, 3, 5, 7, 9], "tickSize": -9, "labels": false, "title": null}},
            "text": {"field": "t"}
          }
        },
        {
          "data": {"name": "keys"},
          "transform": [{"filter": "datum.p == 'b'"}],
          "mark": {"type": "text", "align": "center", "baseline": "alphabetic", "font": "Liberation Serif", "fontSize": 49, "fontWeight": "bold"},
          "encoding": {
            "x": {"field": "f", "type": "quantitative", "scale": {"domain": [0, 100], "nice": false, "zero": false},
              "axis": {"orient": "top", "values": [10, 30, 50, 70, 90], "tickSize": -11, "labels": false, "title": null}},
            "y": {"field": "h", "type": "quantitative", "scale": {"domain": [0, 10], "nice": false, "zero": false}, "axis": null},
            "text": {"field": "s"},
            "color": {"field": "s", "type": "nominal", "scale": {"domain": ["C", "P", "R"], "range": ["#000000", "#0000cd", "#ff1100"]}, "legend": null}
          }
        }
      ],
      "resolve": {"axis": {"x": "independent", "y": "independent"}, "scale": {"color": "independent"}}
    },
    {
      "width": 617,
      "height": 842,
      "layer": [
        {
          "data": {"name": "rules"},
          "transform": [{"filter": "datum.p == 'c'"}],
          "mark": {"type": "rule", "strokeDash": [9, 4], "strokeWidth": 2.5},
          "encoding": {
            "y": {"field": "h", "type": "quantitative", "scale": {"domain": [0, 10], "nice": false, "zero": false},
              "axis": {"orient": "left", "values": [0, 2, 4, 6, 8, 10], "tickSize": -15, "labelPadding": 33, "labelFlush": true, "labelFlushOffset": 1, "labelOffset": 3, "title": null}},
            "color": {"field": "k", "type": "nominal", "scale": {"domain": ["T", "R", "P"], "range": ["#ffb400", "#ff1100", "#00009c"]}, "legend": null}
          }
        },
        {
          "data": {"name": "lines"},
          "transform": [{"filter": "datum.p == 'c'"}],
          "mark": {"type": "line", "strokeWidth": 8, "strokeCap": "round", "strokeJoin": "round"},
          "encoding": {
            "x": {"field": "f", "type": "quantitative", "scale": {"domain": [0, 100], "nice": false, "zero": false},
              "axis": {"orient": "bottom", "values": [0, 20, 40, 60, 80, 100], "tickSize": -20, "labelPadding": 64, "labelFlush": false, "title": "Frequency Percent(*0.01%)", "titlePadding": 24}},
            "y": {"field": "h", "type": "quantitative", "scale": {"domain": [0, 10], "nice": false, "zero": false},
              "axis": {"orient": "left", "values": [1, 3, 5, 7, 9], "tickSize": -9, "labels": false, "title": null}},
            "color": {"field": "s", "type": "nominal", "scale": {"domain": ["C", "P", "R"], "range": ["#000000", "#0000cd", "#ff1100"]}, "legend": null},
            "detail": {"field": "g", "type": "nominal"},
            "order": {"field": "h", "type": "quantitative"}
          }
        },
        {
          "data": {"name": "dots"},
          "transform": [{"filter": "datum.p == 'c'"}],
          "mark": {"type": "point", "shape": "circle", "filled": true, "size": 52, "opacity": 1},
          "encoding": {
            "x": {"field": "f", "type": "quantitative", "scale": {"domain": [0, 100], "nice": false, "zero": false},
              "axis": {"orient": "bottom", "values": [10, 30, 50, 70, 90], "tickSize": -11, "labels": false, "title": null}},
            "y": {"field": "h", "type": "quantitative", "scale": {"domain": [0, 10], "nice": false, "zero": false},
              "axis": {"orient": "right", "values": [0, 2, 4, 6, 8, 10], "tickSize": -15, "labels": false, "title": null}},
            "color": {"field": "s", "type": "nominal", "scale": {"domain": ["C", "P", "R"], "range": ["#000000", "#0000cd", "#ff1100"]}, "legend": null}
          }
        },
        {
          "data": {"name": "stages"},
          "transform": [{"filter": "datum.p == 'c'"}],
          "mark": {"type": "text", "align": "left", "baseline": "alphabetic", "font": "Liberation Serif", "fontSize": 49, "fontWeight": "bold", "color": "#000000"},
          "encoding": {
            "x": {"field": "f", "type": "quantitative", "scale": {"domain": [0, 100], "nice": false, "zero": false},
              "axis": {"orient": "top", "values": [20, 40, 60, 80], "tickSize": -20, "labels": false, "title": null}},
            "y": {"field": "h", "type": "quantitative", "scale": {"domain": [0, 10], "nice": false, "zero": false},
              "axis": {"orient": "right", "values": [1, 3, 5, 7, 9], "tickSize": -9, "labels": false, "title": null}},
            "text": {"field": "t"}
          }
        },
        {
          "data": {"name": "keys"},
          "transform": [{"filter": "datum.p == 'c'"}],
          "mark": {"type": "text", "align": "center", "baseline": "alphabetic", "font": "Liberation Serif", "fontSize": 49, "fontWeight": "bold"},
          "encoding": {
            "x": {"field": "f", "type": "quantitative", "scale": {"domain": [0, 100], "nice": false, "zero": false},
              "axis": {"orient": "top", "values": [10, 30, 50, 70, 90], "tickSize": -11, "labels": false, "title": null}},
            "y": {"field": "h", "type": "quantitative", "scale": {"domain": [0, 10], "nice": false, "zero": false}, "axis": null},
            "text": {"field": "s"},
            "color": {"field": "s", "type": "nominal", "scale": {"domain": ["C", "P", "R"], "range": ["#000000", "#0000cd", "#ff1100"]}, "legend": null}
          }
        }
      ],
      "resolve": {"axis": {"x": "independent", "y": "independent"}, "scale": {"color": "independent"}}
    }
  ],
  "config": {
    "view": {"stroke": "#000000", "strokeWidth": 6},
    "axis": {
      "domain": false,
      "grid": false,
      "tickColor": "#000000",
      "tickWidth": 6,
      "tickCap": "round",
      "labelFont": "Liberation Serif",
      "labelFontSize": 48,
      "labelFontWeight": "bold",
      "labelColor": "#000000",
      "labelOverlap": false,
      "titleFont": "Liberation Serif",
      "titleFontSize": 48,
      "titleFontWeight": "bold",
      "titleColor": "#000000",
      "titleLimit": 1000
    }
  }
}
